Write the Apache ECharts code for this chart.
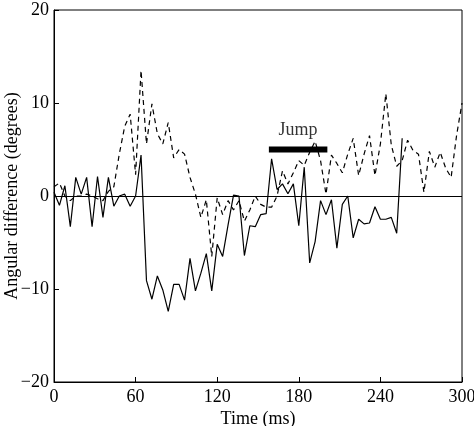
<!DOCTYPE html>
<html>
<head>
<meta charset="utf-8">
<script src="https://cdn.jsdelivr.net/npm/echarts@6/dist/echarts.min.js"></script>
<style>
  html, body { margin: 0; padding: 0; background: #fff; }
  #chart { width: 474px; height: 426px; }
</style>
</head>
<body>
<div id="chart"></div>
<script>
// sample times (ms)
const times = [
  0, 4, 8, 12, 16, 20, 24, 28, 32, 36, 40, 44, 48, 52, 56, 60, 64, 68, 72, 76,
  80, 84, 88, 92, 96, 100, 104, 108, 112, 116, 120, 124, 128, 132, 136, 140, 144, 148, 152, 156,
  160, 164, 168, 172, 176, 180, 184, 188, 192, 196, 200, 204, 208, 212, 216, 220, 224, 228, 232, 236,
  240, 244, 248, 252, 256, 260, 264, 268, 272, 276, 280, 284, 288, 292, 296, 300
]

// solid trace (ends at the jump back up)
const solidValues = [
  0.4, -1.0, 1.1, -3.3, 2.0, 0.2, 2.0, -3.3, 2.1, -2.3, 2.0, -1.1, 0, 0.2, -1.1, 0, 4.4, -9.1, -11.1, -8.6,
  -10.1, -12.4, -9.5, -9.5, -11.2, -6.7, -10.2, -8.3, -6.2, -10.2, -5.2, -6.5, -3.1, 0.1, 0, -6.4, -3.2, -3.3, -2.0, -1.9,
  4.0, 0.7, 1.3, 0.25, 1.3, -3.2, 3.1, -7.2, -4.9, -0.5, -2.0, -0.4, -5.6, -0.9, 0, -4.5, -2.5, -3.0, -2.9, -1.15,
  -2.5, -2.5, -2.3, -4.0, 6.2
]

// dashed trace
const dashedValues = [
  1.0, 1.4, 0, -0.5, 0, 0, 0.2, 0, -0.3, -0.5, 0.5, 1.0, 4.5, 7.5, 8.8, 2.3, 13.5, 5.6, 9.9, 6.7,
  5.6, 7.9, 4.1, 5.0, 4.5, 2.0, 0.2, -2.3, -0.4, -6.5, -0.2, -2.0, -0.5, -1.5, -0.5, -2.7, -1.5, 0, -0.9, -1.2,
  -1.2, 0, 2.7, 1.3, 2.5, 3.8, 3.3, 4.7, 5.9, 3.8, 0.2, 4.4, 3.5, 2.5, 4.5, 6.2, 2.2, 4.5, 6.5, 2.2,
  5.6, 11.0, 5.5, 3.2, 3.8, 6.0, 4.9, 4.5, 0.4, 4.8, 3.1, 4.7, 3.0, 2.0, 6.5, 10.0
]

// "Jump" bar
const jumpTimes = [158, 201]
const jumpLevel = 5
const jumpLabel = 'Jump'

const xTicks = [0, 60, 120, 180, 240, 300]
const yTicks = [-20, -10, 0, 10, 20]

const toPairs = (vals) => vals.map((v, i) => [times[i], v])
const fmtNum = (v) => (v < 0 ? '\u2212' + Math.abs(v) : String(v))

const chart = echarts.init(document.getElementById('chart'))

const font = 'Liberation Serif'

chart.setOption({
  animation: false,
  grid: {
    left: 54,
    right: 12,
    top: 10,
    bottom: 44,
    containLabel: false,
    outerBoundsMode: 'none',
    show: true,
    borderColor: '#000',
    borderWidth: 1
  },
  xAxis: {
    type: 'value',
    min: xTicks[0],
    max: xTicks[xTicks.length - 1],
    interval: 60,
    name: 'Time (ms)',
    nameLocation: 'middle',
    nameGap: 28,
    nameMoveOverlap: false,
    nameTextStyle: { color: '#000', fontFamily: font, fontSize: 18, verticalAlign: 'top' },
    axisLine: { onZero: false, lineStyle: { color: '#000', width: 1 } },
    axisTick: { inside: true, length: 5, lineStyle: { color: '#000' } },
    axisLabel: { color: '#000', fontFamily: font, fontSize: 18, margin: 6, formatter: fmtNum },
    splitLine: { show: false }
  },
  yAxis: {
    type: 'value',
    min: yTicks[0],
    max: yTicks[yTicks.length - 1],
    interval: 10,
    name: 'Angular difference (degrees)',
    nameLocation: 'middle',
    nameGap: 33,
    nameMoveOverlap: false,
    nameTextStyle: { color: '#000', fontFamily: font, fontSize: 18 },
    axisLine: { lineStyle: { color: '#000', width: 1 } },
    axisTick: { inside: true, length: 5, lineStyle: { color: '#000' } },
    axisLabel: { color: '#000', fontFamily: font, fontSize: 18, margin: 5, formatter: fmtNum },
    splitLine: { show: false }
  },
  series: [
    {
      name: 'solid',
      type: 'line',
      data: toPairs(solidValues),
      showSymbol: false,
      lineStyle: { color: '#000', width: 1.2 },
      markLine: {
        silent: true,
        symbol: 'none',
        label: { show: false },
        lineStyle: { color: '#000', width: 1, type: 'solid' },
        data: [{ yAxis: 0 }]
      }
    },
    {
      name: 'dashed',
      type: 'line',
      data: toPairs(dashedValues),
      showSymbol: false,
      lineStyle: { color: '#000', width: 1.2, type: [5, 4] }
    },
    {
      name: 'jump',
      type: 'line',
      data: jumpTimes.map(t => [t, jumpLevel]),
      showSymbol: false,
      lineStyle: { color: '#000', width: 6 }
    },
    {
      name: 'jumpLabel',
      type: 'scatter',
      symbolSize: 0,
      data: [[(jumpTimes[0] + jumpTimes[1]) / 2, jumpLevel]],
      label: {
        show: true,
        position: 'top',
        distance: 10,
        formatter: jumpLabel,
        color: '#000',
        fontFamily: font,
        fontSize: 18
      }
    }
  ]
})
</script>
</body>
</html>
